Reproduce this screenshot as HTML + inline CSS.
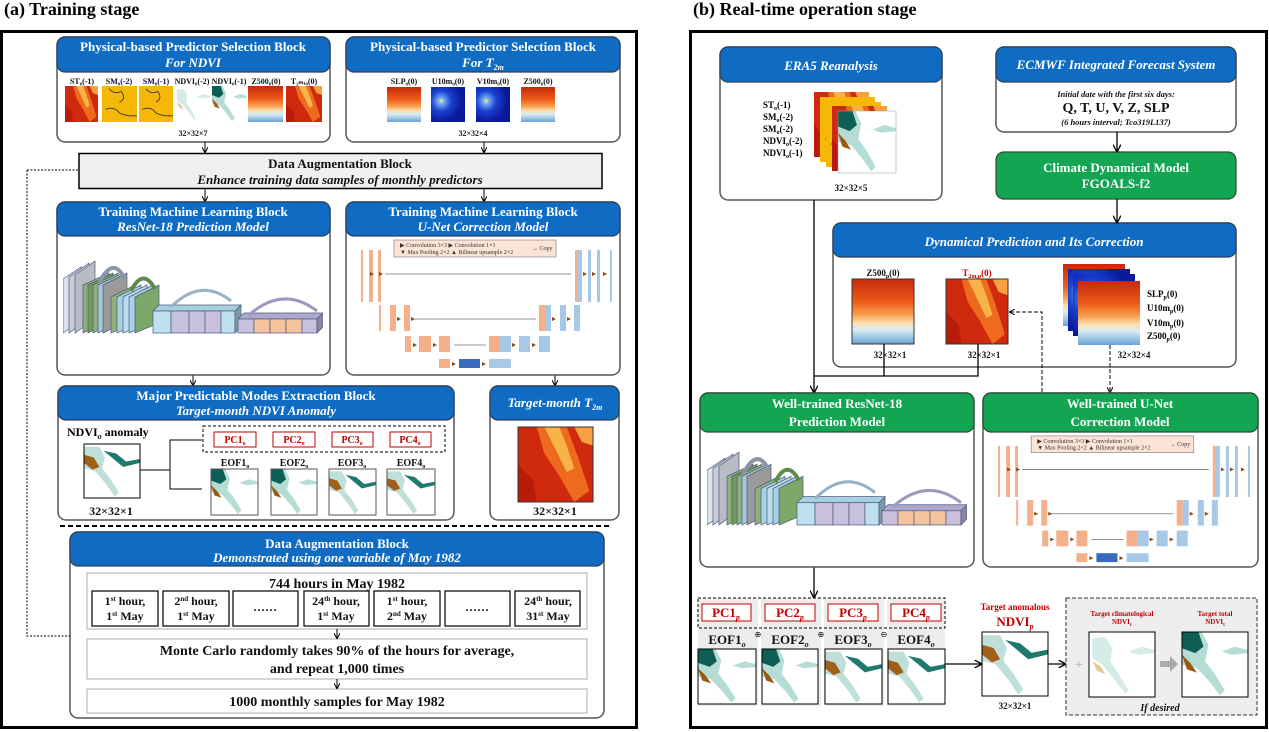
<!DOCTYPE html>
<html><head><meta charset="utf-8"><style>
html,body{margin:0;padding:0;background:#fff;}
svg{display:block;font-family:"Liberation Serif",serif;}
.hw{fill:#fff;font-weight:bold;font-size:13px;text-anchor:middle;}
.hi{fill:#fff;font-weight:bold;font-style:italic;font-size:13px;text-anchor:middle;}
.lb{font-size:8px;font-weight:bold;text-anchor:middle;fill:#111;}
.bk{font-weight:bold;text-anchor:middle;fill:#111;}
.blk{fill:#fff;stroke:#555;stroke-width:1.5;}
.hdB{fill:#0f6cc2;stroke:#2b3f5c;stroke-width:1.2;}
.hdG{fill:#13a552;stroke:#2b4a35;stroke-width:1.2;}
.red{fill:#c00000;}
</style></head><body>
<svg width="1269" height="732" viewBox="0 0 1269 732" xmlns="http://www.w3.org/2000/svg">
<defs>
 <linearGradient id="gz" x1="0" y1="0" x2="0" y2="1">
  <stop offset="0" stop-color="#c52a0c"/><stop offset="0.35" stop-color="#ec5a18"/><stop offset="0.55" stop-color="#f8a050"/><stop offset="0.68" stop-color="#fde0b0"/><stop offset="0.78" stop-color="#d8ecf2"/><stop offset="1" stop-color="#68a4d6"/>
 </linearGradient>
 <radialGradient id="gw" cx="0.3" cy="0.4" r="0.6">
  <stop offset="0" stop-color="#f0f080"/><stop offset="0.15" stop-color="#6fa8f0"/><stop offset="0.5" stop-color="#1a40d0"/><stop offset="1" stop-color="#0a1a9a"/>
 </radialGradient>
 <symbol id="zmap" viewBox="0 0 40 40" preserveAspectRatio="none"><rect width="40" height="40" fill="url(#gz)"/></symbol>
 <symbol id="heat" viewBox="0 0 40 40" preserveAspectRatio="none"><rect width="40" height="40" fill="#cf2a0e"/><polygon points="10,0 26,0 32,16 38,34 30,40 22,26 14,14" fill="#ee6a1e"/><polygon points="14,0 22,0 26,10 30,22 26,24 20,12" fill="#f8b448"/><polygon points="0,20 8,28 10,40 0,40" fill="#b81c08"/><polygon points="30,0 40,0 40,10 34,8" fill="#f6a040"/></symbol>
 <symbol id="sm" viewBox="0 0 40 40" preserveAspectRatio="none"><rect width="40" height="40" fill="#f7c20a"/><rect width="40" height="40" fill="#f59a00" opacity=".25"/><path d="M8 3 Q14 10 22 6 Q28 14 20 18 M4 26 Q14 22 20 30 Q28 34 40 33" stroke="#333" fill="none" stroke-width="1"/></symbol>
 <symbol id="wind" viewBox="0 0 40 40" preserveAspectRatio="none"><rect width="40" height="40" fill="url(#gw)"/></symbol>
 <symbol id="ndvi" viewBox="0 0 40 40" preserveAspectRatio="none"><rect width="40" height="40" fill="#fff"/><path d="M2 4 L10 3 L14 10 L13 18 L18 26 L24 36 L22 38 L16 30 L8 20 L2 16Z" fill="#d4ebe7"/><path d="M24 12 L32 9 L40 11 L40 13 L30 14Z" fill="#d8ece8"/><path d="M2 18 L7 21 L10 26 L5 24Z" fill="#e6c89a"/></symbol>
 <symbol id="ndvid" viewBox="0 0 40 40" preserveAspectRatio="none"><rect width="40" height="40" fill="#fff"/><path d="M0 0 L12 0 L16 8 L14 18 L20 26 L26 36 L23 39 L17 31 L9 22 L0 20Z" fill="#b6dcd6"/><path d="M0 0 L10 0 L13 9 L8 13 L0 10Z" fill="#0d5f55"/><path d="M24 12 L32 9 L40 11 L40 13 L30 14Z" fill="#b6dcd6"/><path d="M0 14 L5 19 L9 25 L3 23Z" fill="#9a5a14"/></symbol>
 <symbol id="ndvib" viewBox="0 0 40 40" preserveAspectRatio="none"><rect width="40" height="40" fill="#fff"/><path d="M0 2 L11 2 L15 10 L13 18 L19 26 L25 36 L22 39 L16 30 L8 20 L0 18Z" fill="#bfe0da"/><path d="M0 8 L7 10 L11 17 L6 19 L0 14Z" fill="#a0601a"/><path d="M14 5 L23 7 L30 13 L40 11 L40 14 L28 17 Z" fill="#1f7a6e"/></symbol>
 <symbol id="rn" viewBox="0 0 260 80" preserveAspectRatio="none">
  <g stroke="#4a5a7a" stroke-width=".7">
   <polygon points="0,78 0,24 18,12 18,66" fill="#dde3ee"/><polygon points="6,78 6,22 26,8 26,64" fill="#c8ccd6"/><polygon points="12,78 12,20 32,6 32,64" fill="#b8bcc4"/>
   <polygon points="20,78 20,30 46,18 46,66" fill="#8fb07a"/><polygon points="25,78 25,30 50,18 50,66" fill="#6f9c5a"/><polygon points="30,78 30,30 55,18 55,66" fill="#8fb07a"/><polygon points="35,78 35,30 60,18 60,66" fill="#a8c8d8"/><polygon points="40,78 40,30 64,18 64,66" fill="#9a9a9a"/>
   <polygon points="48,78 48,42 72,30 72,68" fill="#8fb07a"/><polygon points="54,78 54,42 78,30 78,68" fill="#a8d0e6"/><polygon points="60,78 60,42 84,30 84,68" fill="#c0dcea"/><polygon points="66,78 66,42 90,30 90,68" fill="#a8d0e6"/><polygon points="72,78 72,42 96,30 96,68" fill="#7ea86a"/>
   <polygon points="90,56 96,50 178,50 172,56" fill="#a8d0e0"/>
   <rect x="90" y="56" width="18" height="22" fill="#bfe0ee"/><rect x="108" y="56" width="18" height="22" fill="#c8c0dc"/><rect x="126" y="56" width="16" height="22" fill="#c8c0dc"/><rect x="142" y="56" width="16" height="22" fill="#c8c0dc"/><rect x="158" y="56" width="14" height="22" fill="#bfe0ee"/>
   <polygon points="172,56 178,50 178,72 172,78" fill="#7d9aa8"/>
   <polygon points="175,64 181,58 260,58 254,64" fill="#b0a8cc"/>
   <rect x="175" y="64" width="16" height="14" fill="#c8c0dc"/><rect x="191" y="64" width="16" height="14" fill="#f6c49c"/><rect x="207" y="64" width="16" height="14" fill="#f6c49c"/><rect x="223" y="64" width="16" height="14" fill="#f6c49c"/><rect x="239" y="64" width="15" height="14" fill="#c8c0dc"/>
   <polygon points="254,64 260,58 260,72 254,78" fill="#8a84a8"/>
  </g>
  <g fill="none" stroke-width="4">
   <path d="M36 28 Q50 0 62 24" stroke="#8a96a8"/><path d="M68 36 Q80 12 92 34" stroke="#5e8a4e"/><path d="M108 52 Q138 22 168 46" stroke="#9ab0c8" stroke-width="3"/><path d="M186 60 Q220 30 254 56" stroke="#9a9ac0" stroke-width="3"/>
  </g>
 </symbol>
 <symbol id="un" viewBox="0 0 274 137" preserveAspectRatio="none">
  <rect x="48" y="4" width="162" height="17" fill="#fbe4d6" stroke="#777" stroke-width=".6"/>
  <text x="54" y="11" font-size="6" fill="#333">▶ Convolution 3×3  ▶ Convolution 1×1</text>
  <text x="54" y="18" font-size="6" fill="#333">▼ Max Pooling 2×2  ▲ Bilinear upsample 2×2</text>
  <text x="186" y="14" font-size="6" fill="#333">→ Copy</text>
  <g fill="#f4b08a">
   <rect x="15" y="14" width="2" height="52"/><rect x="23" y="14" width="4" height="52"/><rect x="32" y="14" width="3" height="52"/>
   <rect x="229" y="14" width="3" height="52"/>
   <rect x="33" y="69" width="2" height="26"/><rect x="44" y="69" width="6" height="26"/><rect x="58" y="69" width="6" height="26"/>
   <rect x="193" y="69" width="6" height="26"/>
   <rect x="59" y="100" width="6" height="16"/><rect x="73" y="100" width="12" height="16"/><rect x="93" y="100" width="11" height="16"/><rect x="143" y="100" width="11" height="16"/>
   <rect x="93" y="123" width="11" height="9"/>
  </g>
  <g fill="#a8c8e8">
   <rect x="232" y="14" width="4" height="52"/><rect x="242" y="14" width="3" height="52"/><rect x="251" y="14" width="3" height="52"/><rect x="264" y="14" width="2" height="52"/>
   <rect x="199" y="69" width="6" height="26"/><rect x="214" y="69" width="6" height="26"/><rect x="228" y="69" width="6" height="26"/>
   <rect x="154" y="100" width="11" height="16"/><rect x="173" y="100" width="11" height="16"/><rect x="193" y="100" width="11" height="16"/>
   <rect x="143" y="123" width="22" height="9"/>
  </g>
  <rect x="113" y="123" width="21" height="9" fill="#3a6abf"/>
  <g stroke="#777" stroke-width=".8"><line x1="39" y1="38" x2="225" y2="38"/><line x1="66" y1="83" x2="190" y2="83"/><line x1="108" y1="109" x2="140" y2="109"/></g>
  <g fill="#8a4a1a"><path d="M24 36 l4 2 -4 2z M33 36 l4 2 -4 2z M237 36 l4 2 -4 2z M246 36 l4 2 -4 2z M257 36 l4 2 -4 2z M51 81 l4 2 -4 2z M65 81 l4 2 -4 2z M206 81 l4 2 -4 2z M221 81 l4 2 -4 2z M67 107 l4 2 -4 2z M87 107 l4 2 -4 2z M166 107 l4 2 -4 2z M186 107 l4 2 -4 2z M106 126 l4 2 -4 2z M136 126 l4 2 -4 2z"/></g>
 </symbol>
 <marker id="ar" markerWidth="6" markerHeight="6" refX="5" refY="3" orient="auto"><path d="M0 0 L6 3 L0 6" fill="none" stroke="#000" stroke-width="1"/></marker>
</defs>

<!-- ============ LEFT PANEL ============ -->
<text x="4" y="15" font-size="18" font-weight="bold">(a) Training stage</text>
<rect x="1.5" y="31.5" width="635" height="696" fill="none" stroke="#000" stroke-width="3"/>

<rect class="blk" x="57" y="37" width="273" height="105" rx="8"/>
<rect class="hdB" x="57" y="37" width="273" height="35" rx="8"/>
<text class="hw" x="193" y="51">Physical-based Predictor Selection Block</text>
<text class="hi" x="193" y="67">For NDVI</text>
<g class="lb"><text x="82" y="84">ST₀(-1)</text><text x="119" y="84">SM₀(-2)</text><text x="156" y="84">SM₀(-1)</text><text x="192" y="84">NDVI₀(-2)</text><text x="229" y="84">NDVI₀(-1)</text><text x="266" y="84">Z500₀(0)</text><text x="304" y="84">T₂ₘ,₀(0)</text></g>
<use href="#heat" x="65" y="86" width="33" height="36"/><use href="#sm" x="102" y="86" width="35" height="36"/><use href="#sm" x="139" y="86" width="34" height="36"/><use href="#ndvi" x="175" y="86" width="35" height="36"/><use href="#ndvid" x="212" y="86" width="35" height="36"/><use href="#zmap" x="248" y="86" width="35" height="36"/><use href="#heat" x="286" y="86" width="36" height="36"/>
<text class="lb" x="193" y="136" font-weight="normal">32×32×7</text>

<rect class="blk" x="346" y="37" width="274" height="105" rx="8"/>
<rect class="hdB" x="346" y="37" width="274" height="35" rx="8"/>
<text class="hw" x="483" y="51">Physical-based Predictor Selection Block</text>
<text class="hi" x="483" y="67">For T<tspan font-size="8" dy="3">2m</tspan></text>
<g class="lb"><text x="404" y="84">SLP₀(0)</text><text x="448" y="84">U10m₀(0)</text><text x="493" y="84">V10m₀(0)</text><text x="538" y="84">Z500₀(0)</text></g>
<use href="#zmap" x="387" y="87" width="34" height="35"/><use href="#wind" x="431" y="87" width="34" height="35"/><use href="#wind" x="476" y="87" width="34" height="35"/><use href="#zmap" x="521" y="87" width="34" height="35"/>
<text class="lb" x="473" y="136" font-weight="normal">32×32×4</text>

<g stroke="#000" stroke-width="1" marker-end="url(#ar)">
 <line x1="205" y1="142" x2="205" y2="152"/><line x1="484" y1="142" x2="484" y2="152"/>
 <line x1="205" y1="189" x2="205" y2="201"/><line x1="484" y1="189" x2="484" y2="201"/>
 <line x1="193" y1="373" x2="193" y2="385"/><line x1="555" y1="373" x2="555" y2="385"/>
</g>

<rect x="79" y="153.5" width="523" height="35" fill="#f0f0f0" stroke="#000" stroke-width="1.5"/>
<text class="bk" x="340" y="168" font-size="13">Data Augmentation Block</text>
<text class="bk" x="340" y="184" font-size="13" font-style="italic">Enhance training data samples of monthly predictors</text>

<rect class="blk" x="57" y="202" width="273" height="173" rx="8"/>
<rect class="hdB" x="57" y="202" width="273" height="34" rx="8"/>
<text class="hw" x="193" y="216">Training Machine Learning Block</text>
<text class="hi" x="193" y="231">ResNet-18 Prediction Model</text>
<use href="#rn" x="63" y="255" width="260" height="80"/>

<rect class="blk" x="346" y="202" width="274" height="173" rx="8"/>
<rect class="hdB" x="346" y="202" width="274" height="34" rx="8"/>
<text class="hw" x="483" y="216">Training Machine Learning Block</text>
<text class="hi" x="483" y="231">U-Net Correction Model</text>
<use href="#un" x="346" y="236" width="274" height="137"/>

<rect class="blk" x="58" y="386" width="396" height="134" rx="8"/>
<rect class="hdB" x="58" y="386" width="396" height="34" rx="8"/>
<text class="hw" x="256" y="400">Major Predictable Modes Extraction Block</text>
<text class="hi" x="256" y="415">Target-month NDVI Anomaly</text>
<text x="67" y="436" font-size="12" font-weight="bold">NDVI<tspan font-size="8" dy="3" font-style="italic">o</tspan><tspan dy="-3"> anomaly</tspan></text>
<use href="#ndvib" x="84" y="444" width="56" height="54"/><rect x="84" y="444" width="56" height="54" fill="none" stroke="#000"/>
<text class="bk" x="111" y="515" font-size="12">32×32×1</text>
<path d="M140 470 H170 V440 H202 M170 470 V489 H202" fill="none" stroke="#000"/>
<rect x="203" y="426" width="242" height="26" fill="none" stroke="#000" stroke-dasharray="3,2"/>
<g fill="#fff" stroke="#c00000"><rect x="214" y="432" width="42" height="15"/><rect x="273" y="432" width="42" height="15"/><rect x="332" y="432" width="41" height="15"/><rect x="390" y="432" width="41" height="15"/></g>
<g class="bk red" font-size="10"><text x="235" y="443">PC1<tspan font-size="6" dy="2">o</tspan></text><text x="294" y="443">PC2<tspan font-size="6" dy="2">o</tspan></text><text x="352" y="443">PC3<tspan font-size="6" dy="2">o</tspan></text><text x="410" y="443">PC4<tspan font-size="6" dy="2">o</tspan></text></g>
<g class="bk" font-size="10"><text x="235" y="466">EOF1<tspan font-size="6" dy="2">o</tspan></text><text x="294" y="466">EOF2<tspan font-size="6" dy="2">o</tspan></text><text x="352" y="466">EOF3<tspan font-size="6" dy="2">o</tspan></text><text x="411" y="466">EOF4<tspan font-size="6" dy="2">o</tspan></text></g>
<use href="#ndvid" x="211" y="469" width="47" height="46"/><use href="#ndvid" x="271" y="469" width="46" height="46"/><use href="#ndvib" x="329" y="469" width="47" height="46"/><use href="#ndvib" x="387" y="469" width="48" height="46"/>
<g fill="none" stroke="#555"><rect x="211" y="469" width="47" height="46"/><rect x="271" y="469" width="46" height="46"/><rect x="329" y="469" width="47" height="46"/><rect x="387" y="469" width="48" height="46"/></g>

<rect class="blk" x="490" y="386" width="129" height="134" rx="8"/>
<rect class="hdB" x="490" y="386" width="129" height="34" rx="8"/>
<text class="hi" x="555" y="407">Target-month T<tspan font-size="8" dy="3">2m</tspan></text>
<use href="#heat" x="518" y="427" width="75" height="75"/><rect x="518" y="427" width="75" height="75" fill="none" stroke="#333"/>
<text class="bk" x="555" y="515" font-size="12">32×32×1</text>

<line x1="60" y1="526" x2="612" y2="526" stroke="#000" stroke-width="2" stroke-dasharray="5,3"/>

<path d="M27 170 H79 M27 170 V636 H70" fill="none" stroke="#000" stroke-dasharray="2,1.5"/>
<rect class="blk" x="70" y="532" width="534" height="186" rx="8"/>
<rect class="hdB" x="70" y="532" width="534" height="34" rx="8"/>
<text class="hw" x="337" y="548">Data Augmentation Block</text>
<text class="hi" x="337" y="562" font-size="10">Demonstrated using one variable of May 1982</text>
<g fill="#fff" stroke="#bbb" stroke-width="1.2"><rect x="87" y="573" width="500" height="56"/><rect x="87" y="639" width="500" height="40"/><rect x="87" y="689" width="500" height="24"/></g>
<text class="bk" x="337" y="588" font-size="14">744 hours in May 1982</text>
<g fill="#fff" stroke="#000" stroke-width="1.2"><rect x="92" y="591" width="66" height="35"/><rect x="163" y="591" width="66" height="35"/><rect x="233" y="591" width="65" height="35"/><rect x="304" y="591" width="65" height="35"/><rect x="374" y="591" width="66" height="35"/><rect x="445" y="591" width="65" height="35"/><rect x="515" y="591" width="65" height="35"/></g>
<g class="bk" font-size="12" font-weight="normal">
 <text x="125" y="605">1<tspan font-size="7" dy="-4">st</tspan><tspan dy="4"> hour,</tspan></text><text x="125" y="620">1<tspan font-size="7" dy="-4">st</tspan><tspan dy="4"> May</tspan></text>
 <text x="196" y="605">2<tspan font-size="7" dy="-4">nd</tspan><tspan dy="4"> hour,</tspan></text><text x="196" y="620">1<tspan font-size="7" dy="-4">st</tspan><tspan dy="4"> May</tspan></text>
 <text x="265" y="611">……</text>
 <text x="336" y="605">24<tspan font-size="7" dy="-4">th</tspan><tspan dy="4"> hour,</tspan></text><text x="336" y="620">1<tspan font-size="7" dy="-4">st</tspan><tspan dy="4"> May</tspan></text>
 <text x="407" y="605">1<tspan font-size="7" dy="-4">st</tspan><tspan dy="4"> hour,</tspan></text><text x="407" y="620">2<tspan font-size="7" dy="-4">nd</tspan><tspan dy="4"> May</tspan></text>
 <text x="477" y="611">……</text>
 <text x="548" y="605">24<tspan font-size="7" dy="-4">th</tspan><tspan dy="4"> hour,</tspan></text><text x="548" y="620">31<tspan font-size="7" dy="-4">st</tspan><tspan dy="4"> May</tspan></text>
</g>
<g stroke="#000" marker-end="url(#ar)"><line x1="337" y1="629" x2="337" y2="638"/><line x1="337" y1="679" x2="337" y2="688"/></g>
<text class="bk" x="337" y="655" font-size="14">Monte Carlo randomly takes 90% of the hours for average,</text>
<text class="bk" x="337" y="673" font-size="14">and repeat 1,000 times</text>
<text class="bk" x="337" y="706" font-size="14">1000 monthly samples for May 1982</text>

<!-- ============ RIGHT PANEL ============ -->
<text x="693" y="15" font-size="18" font-weight="bold">(b) Real-time operation stage</text>
<rect x="690.5" y="31.5" width="576" height="696" fill="none" stroke="#000" stroke-width="3"/>

<rect class="blk" x="720" y="47" width="222" height="153" rx="8"/>
<rect class="hdB" x="720" y="47" width="222" height="35" rx="8"/>
<text class="hi" x="831" y="70" font-size="16">ERA5 Reanalysis</text>
<g font-size="9" font-weight="bold"><text x="763" y="108">ST<tspan font-size="6" dy="2">o</tspan><tspan dy="-2">(-1)</tspan></text><text x="763" y="120">SM<tspan font-size="6" dy="2">o</tspan><tspan dy="-2">(-2)</tspan></text><text x="763" y="132">SM<tspan font-size="6" dy="2">o</tspan><tspan dy="-2">(-2)</tspan></text><text x="763" y="144">NDVI<tspan font-size="6" dy="2">o</tspan><tspan dy="-2">(-2)</tspan></text><text x="763" y="156">NDVI<tspan font-size="6" dy="2">o</tspan><tspan dy="-2">(-1)</tspan></text></g>
<use href="#heat" x="814" y="92" width="55" height="65"/><use href="#sm" x="820" y="97" width="55" height="65"/><use href="#sm" x="826" y="102" width="55" height="65"/><use href="#heat" x="832" y="106" width="55" height="65"/><use href="#ndvid" x="838" y="111" width="58" height="62"/><rect x="838" y="111" width="58" height="62" fill="none" stroke="#999" stroke-width=".5"/>
<text class="bk" x="851" y="191" font-size="9">32×32×5</text>

<rect class="blk" x="996" y="47" width="240" height="85" rx="8"/>
<rect class="hdB" x="996" y="47" width="240" height="35" rx="8"/>
<text class="hi" x="1116" y="69" font-size="12">ECMWF Integrated Forecast System</text>
<text class="bk" x="1116" y="97" font-size="8.5" font-style="italic">Initial date with the first six days:</text>
<text class="bk" x="1116" y="112" font-size="14">Q, T, U, V, Z, SLP</text>
<text class="bk" x="1116" y="125" font-size="8.5" font-style="italic">(6 hours interval; Tco319L137)</text>
<rect class="hdG" x="996" y="152" width="240" height="47" rx="8"/>
<text class="hw" x="1116" y="172">Climate Dynamical Model</text>
<text class="hw" x="1116" y="188">FGOALS-f2</text>

<rect class="blk" x="833" y="223" width="403" height="144" rx="8"/>
<rect class="hdB" x="833" y="223" width="403" height="34" rx="8"/>
<text class="hi" x="1034" y="246" font-size="16">Dynamical Prediction and Its Correction</text>
<text class="bk" x="883" y="276" font-size="9">Z500<tspan font-size="6" dy="2">p</tspan><tspan dy="-2">(0)</tspan></text>
<text class="bk red" x="977" y="276" font-size="9">T<tspan font-size="6" dy="2">2m,p</tspan><tspan dy="-2">(0)</tspan></text>
<use href="#zmap" x="852" y="279" width="62" height="65"/><rect x="852" y="279" width="62" height="65" fill="none" stroke="#333"/>
<use href="#heat" x="946" y="279" width="62" height="65"/><rect x="946" y="279" width="62" height="65" fill="none" stroke="#333"/>
<use href="#zmap" x="1063" y="264" width="62" height="62"/><use href="#wind" x="1068" y="269" width="62" height="62"/><use href="#wind" x="1073" y="274" width="62" height="62"/><use href="#zmap" x="1078" y="281" width="62" height="64"/>
<g font-size="9" font-weight="bold"><text x="1147" y="297">SLP<tspan font-size="6" dy="2">p</tspan><tspan dy="-2">(0)</tspan></text><text x="1147" y="311">U10m<tspan font-size="6" dy="2">p</tspan><tspan dy="-2">(0)</tspan></text><text x="1147" y="326">V10m<tspan font-size="6" dy="2">p</tspan><tspan dy="-2">(0)</tspan></text><text x="1147" y="339">Z500<tspan font-size="6" dy="2">p</tspan><tspan dy="-2">(0)</tspan></text></g>
<g class="bk" font-size="9"><text x="890" y="358">32×32×1</text><text x="984" y="358">32×32×1</text><text x="1134" y="358">32×32×4</text></g>

<g stroke="#000" stroke-width="1.3" fill="none">
 <line x1="1117" y1="132" x2="1117" y2="151" marker-end="url(#ar)"/>
 <line x1="1117" y1="199" x2="1117" y2="222" marker-end="url(#ar)"/>
 <line x1="814" y1="200" x2="814" y2="392" marker-end="url(#ar)"/>
 <path d="M884 344 V376 H814 M978 344 V376 H884"/>
 <line x1="814" y1="567" x2="814" y2="597" marker-end="url(#ar)"/>
 <line x1="945" y1="664" x2="981" y2="664" marker-end="url(#ar)"/>
 <line x1="1048" y1="664" x2="1065" y2="664" marker-end="url(#ar)"/>
</g>
<g stroke="#000" stroke-width="1" fill="none" stroke-dasharray="4,2">
 <path d="M1042 392 V312 H1010" marker-end="url(#ar)"/>
 <line x1="1110" y1="345" x2="1110" y2="392" marker-end="url(#ar)"/>
</g>

<rect class="blk" x="700" y="393" width="274" height="174" rx="8"/>
<rect class="hdG" x="700" y="393" width="274" height="39" rx="8"/>
<text class="hw" x="837" y="408" font-size="14">Well-trained ResNet-18</text>
<text class="hw" x="837" y="426" font-size="14">Prediction Model</text>
<use href="#rn" x="707" y="446" width="260" height="81"/>

<rect class="blk" x="983" y="393" width="275" height="174" rx="8"/>
<rect class="hdG" x="983" y="393" width="275" height="39" rx="8"/>
<text class="hw" x="1120" y="408" font-size="14">Well-trained U-Net</text>
<text class="hw" x="1120" y="426" font-size="14">Correction Model</text>
<use href="#un" x="983" y="432" width="275" height="135"/>

<g fill="#ececec"><rect x="698" y="598" width="60" height="108"/><rect x="761" y="598" width="60" height="108"/><rect x="824" y="598" width="60" height="108"/><rect x="887" y="598" width="58" height="108"/></g>
<rect x="698" y="598" width="247" height="30" fill="none" stroke="#000" stroke-dasharray="3,2"/>
<g fill="#fff" stroke="#c00000"><rect x="702" y="604" width="49" height="17"/><rect x="765" y="604" width="50" height="17"/><rect x="828" y="604" width="50" height="17"/><rect x="891" y="604" width="50" height="17"/></g>
<g class="bk red" font-size="13"><text x="726" y="617">PC1<tspan font-size="8" dy="3" font-style="italic">p</tspan></text><text x="790" y="617">PC2<tspan font-size="8" dy="3" font-style="italic">p</tspan></text><text x="853" y="617">PC3<tspan font-size="8" dy="3" font-style="italic">p</tspan></text><text x="916" y="617">PC4<tspan font-size="8" dy="3" font-style="italic">p</tspan></text></g>
<g class="bk" font-size="13"><text x="727" y="644">EOF1<tspan font-size="8" dy="3" font-style="italic">o</tspan></text><text x="790" y="644">EOF2<tspan font-size="8" dy="3" font-style="italic">o</tspan></text><text x="853" y="644">EOF3<tspan font-size="8" dy="3" font-style="italic">o</tspan></text><text x="916" y="644">EOF4<tspan font-size="8" dy="3" font-style="italic">o</tspan></text></g>
<g font-size="8" text-anchor="middle"><text x="758" y="637">⊕</text><text x="821" y="637">⊕</text><text x="884" y="637">⊖</text></g>
<use href="#ndvid" x="698" y="649" width="58" height="55"/><use href="#ndvid" x="762" y="649" width="56" height="55"/><use href="#ndvib" x="825" y="649" width="57" height="55"/><use href="#ndvib" x="888" y="649" width="57" height="55"/>
<g fill="none" stroke="#000"><rect x="698" y="649" width="58" height="55"/><rect x="762" y="649" width="56" height="55"/><rect x="825" y="649" width="57" height="55"/><rect x="888" y="649" width="57" height="55"/></g>

<text class="bk red" x="1015" y="610" font-size="9">Target anomalous</text>
<text class="bk red" x="1015" y="626" font-size="13">NDVI<tspan font-size="8" dy="3" font-style="italic">p</tspan></text>
<use href="#ndvib" x="982" y="632" width="66" height="64"/><rect x="982" y="632" width="66" height="64" fill="none" stroke="#000"/>
<text class="bk" x="1015" y="709" font-size="9">32×32×1</text>

<rect x="1066" y="598" width="191" height="117" fill="#eeeeee" stroke="#333" stroke-dasharray="4,2"/>
<g class="bk red" font-size="7" font-weight="normal"><text x="1122" y="616">Target climatological</text><text x="1122" y="624">NDVI<tspan font-size="5" dy="2">c</tspan></text><text x="1215" y="616">Target total</text><text x="1215" y="624">NDVI<tspan font-size="5" dy="2">t</tspan></text></g>
<text x="1079" y="669" font-size="14" fill="#bbb" font-weight="bold" text-anchor="middle">+</text>
<use href="#ndvi" x="1089" y="632" width="66" height="65"/><rect x="1089" y="632" width="66" height="65" fill="none" stroke="#000"/>
<polygon points="1160,661 1170,661 1170,656 1178,664 1170,672 1170,667 1160,667" fill="#aaa"/>
<use href="#ndvid" x="1182" y="632" width="66" height="65"/><rect x="1182" y="632" width="66" height="65" fill="none" stroke="#000"/>
<text class="bk" x="1160" y="711" font-size="10" font-style="italic">If desired</text>
</svg>
</body></html>
